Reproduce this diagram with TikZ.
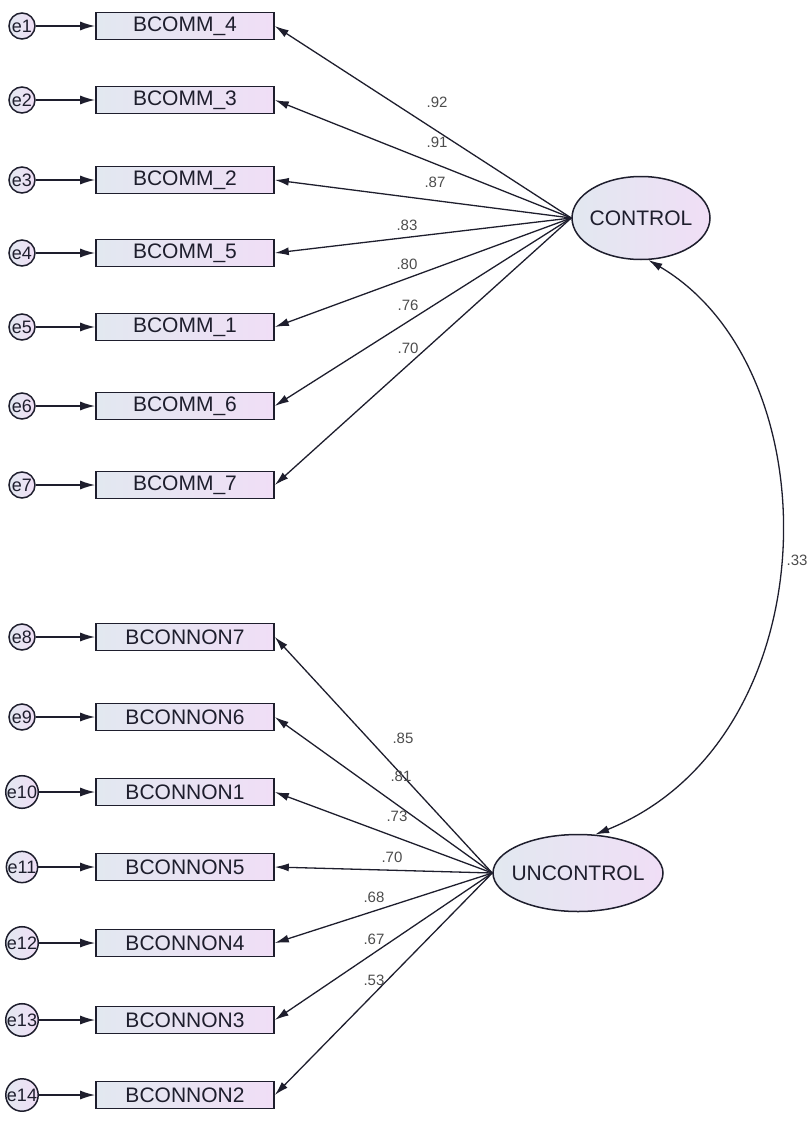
\documentclass[tikz,border=0pt]{standalone}
\usepackage{fontspec}
\setmainfont{Liberation Sans}
\usetikzlibrary{arrows.meta,shapes.geometric}
\definecolor{leftc}{RGB}{226,232,240}
\definecolor{rightc}{RGB}{240,222,246}
\definecolor{inkc}{RGB}{30,30,45}
\begin{document}
\begin{tikzpicture}[x=1pt,y=-1pt,
  obs/.style={rectangle,draw=inkc,line width=1.6pt,minimum width=178pt,minimum height=27pt,inner sep=0pt,
    left color=leftc,right color=rightc,text=inkc,font=\fontsize{21}{21}\selectfont},
  err/.style={circle,draw=inkc,line width=1.5pt,minimum size=26pt,inner sep=0pt,
    left color=leftc,right color=rightc,text=inkc,font=\fontsize{18}{18}\selectfont},
  lat/.style={ellipse,draw=inkc,line width=1.5pt,inner xsep=-12pt,inner ysep=0pt,
    left color=leftc,right color=rightc,text=inkc,font=\fontsize{21}{21}\selectfont},
  arr/.style={-{Latex[length=15pt,width=9pt]},line width=1.6pt,draw=inkc},
  load/.style={-{Latex[length=14pt,width=8pt]},line width=1.3pt,draw=inkc},
  lbl/.style={font=\fontsize{15}{15}\selectfont,text=black!70}]
\useasboundingbox (0,0) rectangle (811,1121);
% latent variables
\node[lat,minimum width=138pt,minimum height=83pt] (C) at (641,218) {CONTROL};
\node[lat,minimum width=170pt,minimum height=77pt] (U) at (578,873) {UNCONTROL};
% upper indicators
\foreach \i/\y/\t in {1/26/BCOMM\_4,2/100/BCOMM\_3,3/180/BCOMM\_2,4/253/BCOMM\_5,5/327/BCOMM\_1,6/406/BCOMM\_6,7/485/BCOMM\_7}{
  \node[obs] (b\i) at (185,\y) {\t};
  \node[err] (e\i) at (22,\y) {e\i};
  \draw[arr] (e\i) -- (b\i);
  \draw[load] (C.west) -- (b\i.east);
}
% lower indicators
\foreach \i/\y/\t in {8/637/BCONNON7,9/717/BCONNON6,10/792/BCONNON1,11/867/BCONNON5,12/943/BCONNON4,13/1020/BCONNON3,14/1095/BCONNON2}{
  \node[obs] (b\i) at (185,\y) {\t};
  \node[err] (e\i) at (22,\y) {e\i};
  \draw[arr] (e\i) -- (b\i);
  \draw[load] (U.west) -- (b\i.east);
}
% loading labels
\node[lbl] (l1) at (437,102) {.92};
\node[lbl] (l2) at (437,142) {.91};
\node[lbl] (l3) at (435,182) {.87};
\node[lbl] (l4) at (407,225) {.83};
\node[lbl] (l5) at (407,264) {.80};
\node[lbl] (l6) at (408,305) {.76};
\node[lbl] (l7) at (408,348) {.70};
\node[lbl] (l8) at (403,738) {.85};
\node[lbl] (l9) at (401,776) {.81};
\node[lbl] (l10) at (397,816) {.73};
\node[lbl] (l11) at (392,857) {.70};
\node[lbl] (l12) at (374,897) {.68};
\node[lbl] (l13) at (374,939) {.67};
\node[lbl] (l14) at (374,980) {.53};
% correlation
\draw[{Latex[length=14pt,width=8pt]}-{Latex[length=14pt,width=8pt]},line width=1.3pt,draw=inkc]
  (C.-80) .. controls (835,370) and (830,740) .. (U.66);
\node[lbl] (r) at (797,560) {.33};
\end{tikzpicture}
\end{document}
